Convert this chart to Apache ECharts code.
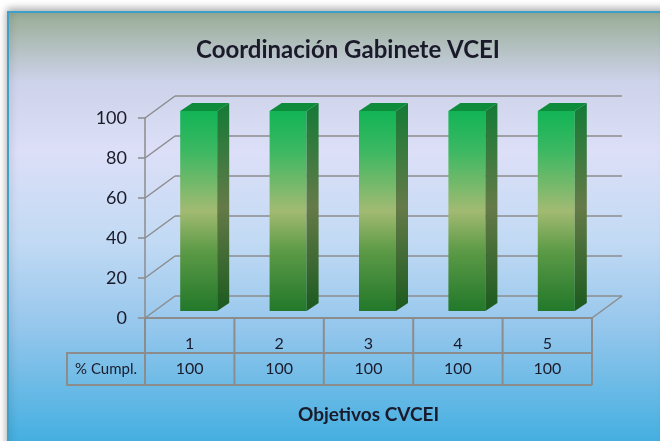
<!DOCTYPE html>
<html>
<head>
<meta charset="utf-8">
<script src="https://cdn.jsdelivr.net/npm/echarts@6/dist/echarts.min.js"></script>
<style>
  html, body { margin: 0; padding: 0; background: #ffffff; }
  #chart { width: 660px; height: 441px; }
</style>
</head>
<body>
<div id="chart"></div>
<script>
// datos del grafico
const titleText = 'Coordinación Gabinete VCEI'
const categories = ['1', '2', '3', '4', '5']
const cumplimiento = [100, 100, 100, 100, 100]
const yTicks = [0, 20, 40, 60, 80, 100]
const rowName = '% Cumpl.'
const axisName = 'Objetivos CVCEI'

// profundidad del efecto 3D
const DX = 30, DY = -22
const gridColor = '#8c8c8c'
const fontFam = 'Lato, "Open Sans", sans-serif'

const cs = echarts.init(document.getElementById('chart'))

// marco: diagonales de la pared izquierda y suelo
function renderFrame(params, api) {
    const sys = params.coordSys
    const children = []
    yTicks.forEach(function (t) {
        const y = api.coord([0, t])[1]
        children.push({
            type: 'line',
            shape: { x1: sys.x, y1: y, x2: sys.x + DX, y2: y + DY },
            style: { stroke: gridColor, lineWidth: 1.5 }
        })
    })
    const y0 = api.coord([0, 0])[1]
    const xr = sys.x + sys.width
    children.push({
        type: 'line',
        shape: { x1: xr, y1: y0, x2: xr + DX, y2: y0 + DY },
        style: { stroke: gridColor, lineWidth: 1.5 }
    })
    // tabla de datos: fila de nombre
    const rowTop = y0 + 35, rowBot = y0 + 67
    const leftX = sys.x - 78
    children.push({
        type: 'polyline',
        shape: { points: [[xr, rowTop], [leftX, rowTop], [leftX, rowBot], [xr, rowBot]] },
        style: { stroke: gridColor, lineWidth: 2, fill: null }
    })
    children.push({
        type: 'text',
        style: {
            x: (leftX + sys.x) / 2, y: (rowTop + rowBot) / 2,
            text: rowName, align: 'center', verticalAlign: 'middle',
            font: '15px ' + fontFam, fill: '#1a1a2a'
        }
    })
    return { type: 'group', children: children }
}

// celdas de la tabla por categoria
function renderTable(params, api) {
    const c = api.coord([api.value(0), 0])
    const bw = api.size([1, 0])[0]
    const y0 = c[1]
    const xl = c[0] - bw / 2, xr = c[0] + bw / 2
    const children = [
        { type: 'line', shape: { x1: xl, y1: y0, x2: xl, y2: y0 + 67 }, style: { stroke: gridColor, lineWidth: 2 } },
        {
            type: 'text',
            style: {
                x: c[0], y: y0 + 26, text: categories[params.dataIndex],
                align: 'center', verticalAlign: 'middle',
                font: '16px ' + fontFam, fill: '#1a1a2a'
            }
        },
        {
            type: 'text',
            style: {
                x: c[0], y: y0 + 51, text: String(api.value(1)),
                align: 'center', verticalAlign: 'middle',
                font: '16px ' + fontFam, fill: '#1a1a2a'
            }
        }
    ]
    if (params.dataIndex === categories.length - 1) {
        children.push({ type: 'line', shape: { x1: xr, y1: y0, x2: xr, y2: y0 + 67 }, style: { stroke: gridColor, lineWidth: 2 } })
    }
    return { type: 'group', children: children }
}

// barras 3D
function renderBar(params, api) {
    const top = api.coord([api.value(0), api.value(1)])
    const base = api.coord([api.value(0), 0])
    const w = 37, ox = 9, oy = -7, sx = 12, sy = -8
    const x1 = top[0] + ox - w / 2, x2 = x1 + w
    const yt = top[1] + oy, yb = base[1] + oy
    return {
        type: 'group',
        children: [
            {
                type: 'rect',
                shape: { x: x1, y: yt, width: w, height: yb - yt },
                style: {
                    fill: new echarts.graphic.LinearGradient(0, 0, 0, 1, [
                        { offset: 0, color: '#12b456' },
                        { offset: 0.2, color: '#3cb862' },
                        { offset: 0.5, color: '#a2ba72' },
                        { offset: 0.7, color: '#5c9a46' },
                        { offset: 1, color: '#22782a' }
                    ])
                }
            },
            {
                type: 'polygon',
                shape: { points: [[x2, yt], [x2 + sx, yt + sy], [x2 + sx, yb + sy], [x2, yb]] },
                style: {
                    fill: new echarts.graphic.LinearGradient(0, 0, 0, 1, [
                        { offset: 0, color: '#137a36' },
                        { offset: 0.5, color: '#657a48' },
                        { offset: 1, color: '#1a5a1e' }
                    ])
                }
            },
            {
                type: 'polygon',
                shape: { points: [[x1, yt], [x1 + sx, yt + sy], [x2 + sx, yt + sy], [x2, yt]] },
                style: { fill: '#0e8c3c' }
            }
        ]
    }
}

const option = {
    animation: false,
    title: {
        text: titleText,
        left: 343,
        top: 33,
        textAlign: 'center',
        textStyle: { fontFamily: fontFam, fontSize: 24, fontWeight: 'bold', color: '#1a1a2a' }
    },
    graphic: [
        {
            type: 'rect',
            z: -10,
            shape: { x: 8, y: 12, width: 660, height: 440 },
            style: {
                fill: new echarts.graphic.LinearGradient(0, 0, 0, 1, [
                    { offset: 0, color: '#98ac94' },
                    { offset: 0.16, color: '#cdd3ea' },
                    { offset: 0.32, color: '#dcdff7' },
                    { offset: 0.52, color: '#c2daf4' },
                    { offset: 0.72, color: '#94c6ec' },
                    { offset: 1, color: '#3caddf' }
                ]),
                stroke: '#3ca0c8',
                lineWidth: 2,
                shadowBlur: 8,
                shadowColor: 'rgba(0,0,0,0.35)',
                shadowOffsetY: -2
            }
        }
    ],
    grid: [
        { left: 145, right: 68, top: 118, bottom: 123 },
        { left: 175, right: 38, top: 96, bottom: 145 }
    ],
    xAxis: [
        {
            gridIndex: 0,
            type: 'category',
            data: categories,
            axisLine: { show: true, lineStyle: { color: gridColor, width: 2 } },
            axisTick: { show: false },
            axisLabel: { show: false },
            name: axisName,
            nameLocation: 'middle',
            nameGap: 87,
            nameTextStyle: { fontFamily: fontFam, fontSize: 19, fontWeight: 'bold', color: '#1a1a2a' }
        },
        {
            gridIndex: 1,
            type: 'category',
            data: categories,
            show: false
        }
    ],
    yAxis: [
        {
            gridIndex: 0,
            type: 'value',
            min: 0,
            max: 100,
            interval: 20,
            axisLine: { show: true, lineStyle: { color: gridColor, width: 1.5 } },
            axisTick: { show: true, length: 7, lineStyle: { color: gridColor, width: 1.5 } },
            axisLabel: { margin: 18, fontFamily: fontFam, fontSize: 18, color: '#1a1a2a' },
            splitLine: { show: false }
        },
        {
            gridIndex: 1,
            type: 'value',
            min: 0,
            max: 100,
            interval: 20,
            axisLine: { show: false },
            axisTick: { show: false },
            axisLabel: { show: false },
            splitLine: { show: true, lineStyle: { color: gridColor, width: 1.5 } }
        }
    ],
    series: [
        {
            type: 'custom',
            name: 'marco',
            xAxisIndex: 0,
            yAxisIndex: 0,
            clip: false,
            renderItem: renderFrame,
            data: [[0, 0]],
            z: 1
        },
        {
            type: 'custom',
            name: 'tabla',
            xAxisIndex: 0,
            yAxisIndex: 0,
            clip: false,
            renderItem: renderTable,
            data: cumplimiento.map(function (v, i) { return [i, v] }),
            z: 2
        },
        {
            type: 'custom',
            name: rowName,
            xAxisIndex: 0,
            yAxisIndex: 0,
            clip: false,
            renderItem: renderBar,
            data: cumplimiento.map(function (v, i) { return [i, v] }),
            z: 3
        }
    ]
}
cs.setOption(option)
</script>
</body>
</html>
